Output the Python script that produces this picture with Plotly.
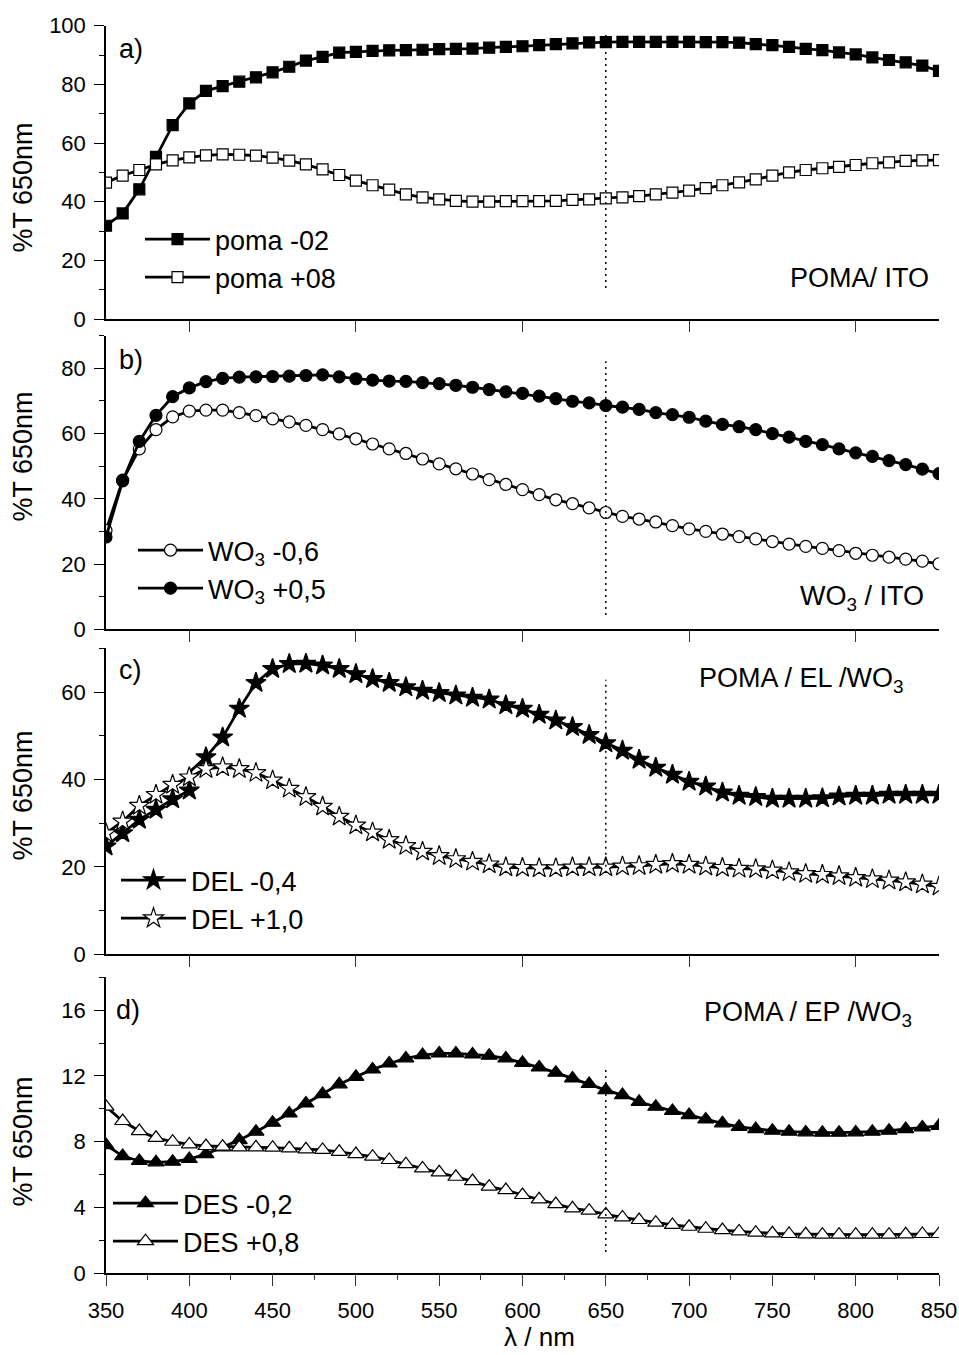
import plotly.graph_objects as go

# Wavelength grid (nm), one point every 10 nm
wavelength = list(range(350, 851, 10))

# a) POMA / ITO
poma_neg02 = [31.8, 36.0, 44.2, 55.3, 66.1, 73.5, 77.8, 79.4, 80.9, 82.4,
              84.1, 86.0, 88.1, 89.4, 90.8, 91.1, 91.4, 91.6, 91.7, 91.8,
              92.0, 92.1, 92.2, 92.5, 92.8, 93.0, 93.4, 93.7, 94.0, 94.3,
              94.4, 94.5, 94.5, 94.5, 94.5, 94.5, 94.4, 94.4, 94.2, 93.7,
              93.4, 92.8, 92.1, 91.7, 90.9, 90.2, 89.2, 88.3, 87.5, 86.4,
              84.6]
poma_pos08 = [46.5, 48.9, 50.8, 52.7, 54.1, 55.1, 55.8, 56.1, 56.0, 55.7,
              55.0, 54.0, 52.7, 51.0, 49.1, 47.2, 45.6, 44.1, 42.5, 41.5,
              40.8, 40.3, 40.0, 40.0, 40.2, 40.2, 40.2, 40.3, 40.6, 40.8,
              41.1, 41.5, 41.9, 42.5, 43.1, 43.8, 44.6, 45.6, 46.6, 47.6,
              48.9, 50.0, 50.8, 51.4, 51.9, 52.5, 53.1, 53.4, 53.9, 54.1,
              54.2]

# b) WO3 / ITO
wo3_neg06 = [30.3, 45.7, 55.3, 61.2, 65.1, 66.9, 67.2, 67.2, 66.4, 65.5,
             64.5, 63.6, 62.5, 61.2, 59.9, 58.4, 56.8, 55.3, 53.9, 52.2,
             50.7, 49.2, 47.6, 45.9, 44.4, 42.8, 41.3, 39.7, 38.5, 37.2,
             35.8, 34.6, 33.8, 32.9, 31.8, 30.8, 30.0, 29.2, 28.4, 27.7,
             26.9, 26.1, 25.4, 24.8, 24.1, 23.3, 22.7, 22.1, 21.5, 20.9,
             20.1]
wo3_pos05 = [28.3, 45.5, 57.6, 65.6, 71.3, 74.0, 75.9, 76.9, 77.3, 77.4,
             77.5, 77.6, 77.8, 78.0, 77.4, 76.8, 76.4, 76.1, 76.0, 75.6,
             75.3, 74.8, 74.2, 73.5, 72.8, 72.3, 71.5, 70.7, 69.9, 69.4,
             68.6, 68.1, 67.4, 66.4, 65.8, 65.0, 63.8, 62.8, 62.1, 61.2,
             60.0, 58.9, 57.6, 56.6, 55.3, 54.1, 53.0, 51.7, 50.5, 49.1,
             47.7]

# c) POMA / EL / WO3
del_neg04 = [24.7, 27.7, 30.8, 33.1, 35.5, 37.5, 45.1, 49.6, 56.2, 62.1,
             65.3, 66.4, 66.5, 66.1, 65.3, 64.1, 63.0, 62.1, 61.1, 60.3,
             59.8, 59.2, 58.7, 58.3, 57.0, 56.2, 54.8, 53.5, 52.0, 50.2,
             48.3, 46.6, 44.5, 42.7, 41.1, 39.5, 38.4, 37.0, 36.3, 36.0,
             35.6, 35.6, 35.6, 35.7, 36.1, 36.3, 36.3, 36.5, 36.5, 36.5,
             36.5]
# detector change-over step just after 400 nm (unmarked point)
del_neg04_step_x = 401
del_neg04_step_y = 42.0
del_pos10 = [27.7, 30.4, 34.0, 36.5, 38.8, 40.5, 42.4, 42.8, 42.4, 41.5,
             39.8, 37.9, 36.0, 33.8, 31.5, 29.5, 27.9, 26.2, 24.8, 23.5,
             22.5, 21.8, 21.2, 20.6, 19.9, 19.8, 19.7, 19.7, 19.9, 19.9,
             19.9, 20.1, 20.2, 20.5, 20.7, 20.5, 20.1, 19.8, 19.6, 19.5,
             19.2, 18.8, 18.4, 18.2, 17.9, 17.5, 17.2, 16.9, 16.5, 16.0,
             15.5]

# d) POMA / EP / WO3
des_neg02 = [7.80, 7.13, 6.83, 6.75, 6.79, 6.95, 7.25, 7.66, 8.10, 8.61,
             9.16, 9.72, 10.33, 10.90, 11.49, 11.95, 12.40, 12.76, 13.07, 13.27,
             13.37, 13.37, 13.31, 13.23, 13.07, 12.80, 12.52, 12.20, 11.85, 11.51,
             11.14, 10.84, 10.43, 10.13, 9.87, 9.62, 9.36, 9.12, 8.91, 8.77,
             8.67, 8.61, 8.57, 8.55, 8.55, 8.57, 8.61, 8.67, 8.77, 8.87,
             8.97]
des_pos08 = [10.13, 9.26, 8.65, 8.24, 8.00, 7.84, 7.74, 7.70, 7.66, 7.66,
             7.64, 7.60, 7.54, 7.50, 7.39, 7.25, 7.09, 6.89, 6.64, 6.38,
             6.14, 5.87, 5.61, 5.27, 5.06, 4.76, 4.50, 4.21, 3.95, 3.81,
             3.58, 3.40, 3.24, 3.08, 2.94, 2.83, 2.71, 2.63, 2.55, 2.47,
             2.43, 2.39, 2.37, 2.35, 2.35, 2.35, 2.35, 2.35, 2.37, 2.39,
             2.39]

# 650 nm reference line extent in each panel (y from, y to)
ref_wavelength = 650
ref_spans = [(10.6, 96.8), (4.4, 82.2), (20.0, 62.8), (1.3, 12.6)]

W, H = 959, 1355
FONT = "Liberation Sans, Arial, sans-serif"


def fx(p):
    return p / W


def fy(p):
    return 1 - p / H


# panel geometry in pixels: (top, bottom), y range, major/minor step
panels = [
    dict(top=25.7, bottom=319.0, yr=[0, 100], dt=20, mdt=10),
    dict(top=335.7, bottom=629.3, yr=[0, 90], dt=20, mdt=10),
    dict(top=648.3, bottom=954.3, yr=[0, 70], dt=20, mdt=10),
    dict(top=977.3, bottom=1273.3, yr=[0, 18], dt=4, mdt=2),
]
X0, X1 = 106, 939

fig = go.Figure()

LW = 2.8


def add_series(i, x, y, name, symbol, filled, size, sizes=None, mlw=1.2):
    ax = "" if i == 1 else str(i)
    fig.add_trace(go.Scatter(
        x=x, y=y, name=name, mode="lines+markers",
        xaxis="x" + ax, yaxis="y" + ax,
        legend="legend" + ax, cliponaxis=True,
        line=dict(color="black", width=LW),
        marker=dict(symbol=symbol, size=sizes if sizes is not None else size,
                    opacity=1,
                    color="black" if filled else "white",
                    line=dict(color="black", width=mlw)),
    ))


add_series(1, wavelength, poma_neg02, "poma -02", "square", True, 11)
add_series(1, wavelength, poma_pos08, "poma +08", "square", False, 11)

add_series(2, wavelength, wo3_neg06, "WO<sub>3</sub> -0,6", "circle", False, 12)
add_series(2, wavelength, wo3_pos05, "WO<sub>3</sub> +0,5", "circle", True, 12)

# insert the unmarked step point into the DEL -0,4 curve
del_x, del_y, del_sizes = [], [], []
for wl, v in zip(wavelength, del_neg04):
    del_x.append(wl)
    del_y.append(v)
    del_sizes.append(15)
    if wl == 400:
        del_x.append(del_neg04_step_x)
        del_y.append(del_neg04_step_y)
        del_sizes.append(0)
add_series(3, del_x, del_y, "DEL -0,4", "star", True, 15, sizes=del_sizes, mlw=1.4)
add_series(3, wavelength, del_pos10, "DEL +1,0", "star", False, 15)

add_series(4, wavelength, des_neg02, "DES -0,2", "triangle-up", True, 14)
add_series(4, wavelength, des_pos08, "DES +0,8", "triangle-up", False, 14)

layout = dict(
    template="none",
    width=W, height=H,
    margin=dict(l=0, r=0, t=0, b=0, autoexpand=False),
    paper_bgcolor="white", plot_bgcolor="white",
    font=dict(family=FONT, size=22, color="black"),
    showlegend=True,
)

for k, p in enumerate(panels, start=1):
    ax = "" if k == 1 else str(k)
    dom_y = [fy(p["bottom"]), fy(p["top"])]
    last = k == 4
    xa = dict(
        domain=[fx(X0), fx(X1)], range=[350, 850], anchor="y" + ax,
        automargin=False,
        showline=True, linecolor="black", linewidth=1.5,
        showgrid=False, zeroline=False,
        ticks="outside", ticklen=11, tickwidth=1.2, tickcolor="#333",
        tick0=0 if not last else 350, dtick=100 if not last else 50,
        showticklabels=last,
        tickfont=dict(family=FONT, size=22, color="black"),
    )
    if last:
        xa["minor"] = dict(dtick=25, ticklen=5, ticks="outside", tickcolor="#333")
        xa["ticklabelstandoff"] = 6
    if k > 1:
        xa["matches"] = "x"
    layout["xaxis" + ax] = xa

    layout["yaxis" + ax] = dict(
        domain=dom_y, range=p["yr"], anchor="x" + ax,
        automargin=False,
        showline=True, linecolor="black", linewidth=1.5,
        showgrid=False, zeroline=False,
        ticks="outside", ticklen=10, tickwidth=1.2, tickcolor="black",
        tick0=0, dtick=p["dt"],
        minor=dict(dtick=p["mdt"], ticklen=5, ticks="outside", tickcolor="black"),
        tickfont=dict(family=FONT, size=22, color="black"),
        ticklabelstandoff=4,
    )

    # grey top and right frame
    layout["xaxis" + str(4 + k)] = dict(
        overlaying="x" + ax, side="top", anchor="y" + ax, range=[350, 850],
        automargin=False,
        showline=True, linecolor="#8a8a8a", linewidth=1.5,
        showgrid=False, zeroline=False, ticks="", showticklabels=False,
    )
    layout["yaxis" + str(4 + k)] = dict(
        overlaying="y" + ax, side="right", anchor="x" + ax, range=p["yr"],
        automargin=False,
        showline=True, linecolor="#8a8a8a", linewidth=1.5,
        showgrid=False, zeroline=False,
        ticks="outside", ticklen=5, tickcolor="#8a8a8a", tick0=0, dtick=p["mdt"],
        showticklabels=False,
    )

# legends (left edge, top edge in pixels)
legend_pos = [(140, 215), (133, 526), (116, 856), (108, 1179)]
for k, (lx, ly) in enumerate(legend_pos, start=1):
    ax = "" if k == 1 else str(k)
    layout["legend" + ax] = dict(
        x=fx(lx), y=fy(ly), xanchor="left", yanchor="top",
        bgcolor="rgba(0,0,0,0)", borderwidth=0,
        font=dict(family=FONT, size=27, color="black"),
        itemwidth=65, tracegroupgap=0,
    )

fig.update_layout(**layout)

# dotted 650 nm guide
for k, (y0, y1) in enumerate(ref_spans, start=1):
    ax = "" if k == 1 else str(k)
    fig.add_shape(type="line", xref="x" + ax, yref="y" + ax,
                  x0=ref_wavelength, x1=ref_wavelength, y0=y0, y1=y1,
                  line=dict(color="black", width=1.5, dash="2px,4px"))

# panel letters and sample labels
panel_letters = ["a)", "b)", "c)", "d)"]
letter_pos = [(117, 49), (117, 360), (117, 670), (114, 1010)]
sample_labels = ["POMA/ ITO", "WO<sub>3</sub> / ITO", "POMA / EL /WO<sub>3</sub>",
                 "POMA / EP /WO<sub>3</sub>"]
sample_pos = [(931, 278), (926, 598), (906, 680), (914, 1014)]

for txt, (px_, py_) in zip(panel_letters, letter_pos):
    fig.add_annotation(text=txt, x=fx(px_), y=fy(py_), xref="paper", yref="paper",
                       xanchor="left", yanchor="middle", showarrow=False,
                       font=dict(family=FONT, size=27, color="black"))
for txt, (px_, py_) in zip(sample_labels, sample_pos):
    fig.add_annotation(text=txt, x=fx(px_), y=fy(py_), xref="paper", yref="paper",
                       xanchor="right", yanchor="middle", showarrow=False,
                       font=dict(family=FONT, size=27, color="black"))

# axis titles
ytitle_centres = [188, 457, 796, 1142]
for yc in ytitle_centres:
    fig.add_annotation(text="%T 650nm", x=fx(22.5), y=fy(yc), xref="paper", yref="paper",
                       xanchor="center", yanchor="middle", textangle=-90, showarrow=False,
                       font=dict(family=FONT, size=27, color="black"))
fig.add_annotation(text="λ / nm", x=fx(539), y=fy(1337), xref="paper", yref="paper",
                   xanchor="center", yanchor="middle", showarrow=False,
                   font=dict(family=FONT, size=26, color="black"))

fig.write_html("out.html")
